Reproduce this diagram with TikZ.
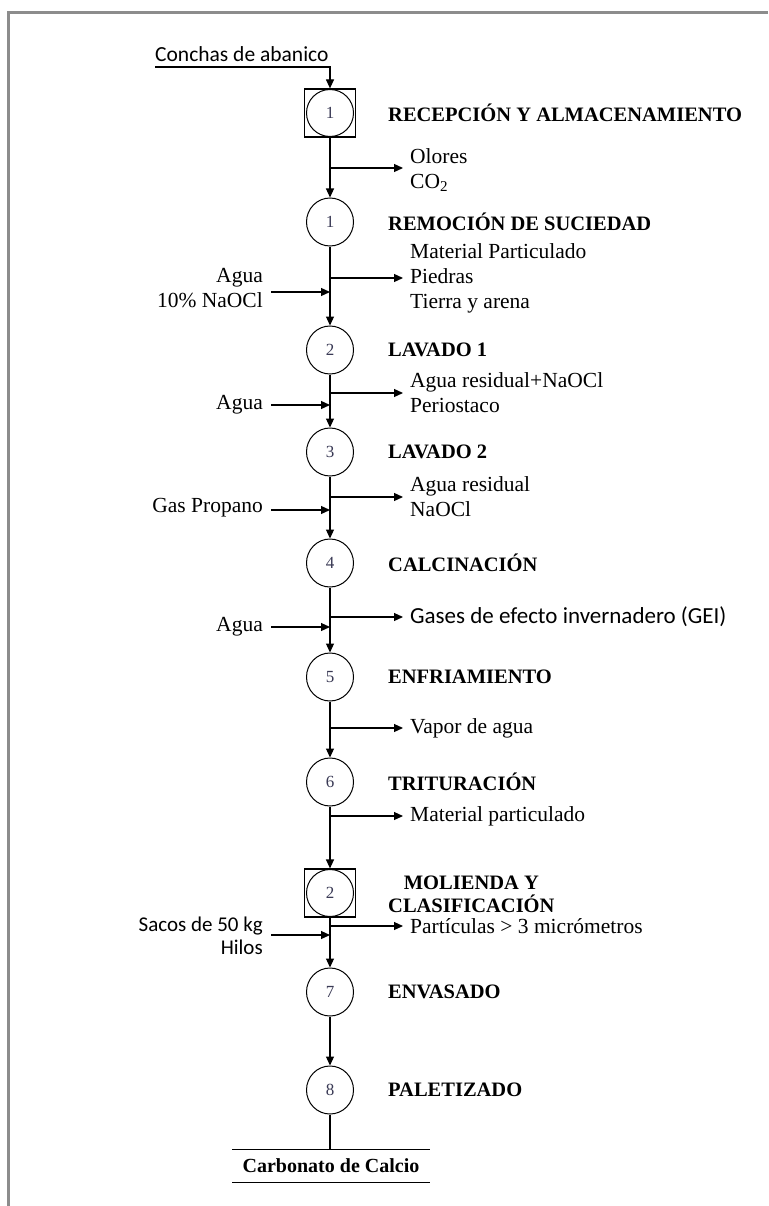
\documentclass[tikz,border=0pt]{standalone}
\usepackage{fontspec}
\setmainfont{Liberation Serif}
\newfontfamily\calib{Carlito}
\usetikzlibrary{shapes.geometric,arrows.meta}
\definecolor{framegray}{HTML}{8C8C8C}
\definecolor{numc}{HTML}{3A3A55}
\begin{document}
\begin{tikzpicture}[x=1pt,y=-1pt,
  proc/.style={draw, line width=1pt, ellipse, minimum width=47pt, minimum height=48pt, inner sep=0pt, font=\fontsize{17}{19}\selectfont, text=numc},
  inproc/.style={proc, minimum width=47pt, minimum height=47pt},
  boxproc/.style={draw, line width=1.2pt, rectangle, minimum width=51pt, minimum height=48pt, inner sep=0pt},
  title/.style={anchor=west, align=center, font=\bfseries\fontsize{20.5}{23}\selectfont, inner sep=0pt},
  outlab/.style={anchor=west, align=left, font=\fontsize{21.5}{25}\selectfont, inner sep=0pt},
  inlab/.style={anchor=east, align=right, font=\fontsize{21.5}{25}\selectfont, inner sep=0pt},
  flow/.style={line width=1.2pt, -{Triangle[length=9pt,width=8pt]}},
  plain/.style={line width=1.2pt}]
\useasboundingbox (0,0) rectangle (768,1206);
\fill[white] (0,0) rectangle (768,1206);
\draw[framegray, line width=3pt] (8,1206) -- (8,13) -- (768,13);

% process symbols
\node[boxproc] (b1) at (330,113) {};
\node[inproc] (s0) at (330,113) {1};
\node[proc] (s1) at (330,222) {1};
\node[proc] (s2) at (330,350) {2};
\node[proc] (s3) at (330,452) {3};
\node[proc] (s4) at (330,563) {4};
\node[proc] (s5) at (330,677) {5};
\node[proc] (s6) at (330,782) {6};
\node[boxproc] (b2) at (330,893) {};
\node[inproc] (m2) at (330,893) {2};
\node[proc] (s7) at (330,992) {7};
\node[proc] (s8) at (330,1090) {8};

% titles
\node[title] (h0) at (388,113) {RECEPCIÓN Y ALMACENAMIENTO};
\node[title] (h1) at (388,222) {REMOCIÓN DE SUCIEDAD};
\node[title] (h2) at (388,350) {LAVADO 1};
\node[title] (h3) at (388,452) {LAVADO 2};
\node[title] (h4) at (388,563) {CALCINACIÓN};
\node[title] (h5) at (388,677) {ENFRIAMIENTO};
\node[title] (h6) at (388,782) {TRITURACIÓN};
\node[title] (hm) at (388,894) {MOLIENDA Y\\CLASIFICACIÓN};
\node[title] (h7) at (388,992) {ENVASADO};
\node[title] (h8) at (388,1090) {PALETIZADO};

% raw material input
\node[anchor=south west, inner sep=0pt, font=\calib\fontsize{21.5}{24}\selectfont] (raw) at (155,62) {Conchas de abanico};
\coordinate (rawc) at (155,67);
\draw[flow] (rawc) -| (b1.north);

% main flow
\draw[flow] (b1.south) -- (s1.north);
\draw[flow] (s1.south) -- (s2.north);
\draw[flow] (s2.south) -- (s3.north);
\draw[flow] (s3.south) -- (s4.north);
\draw[flow] (s4.south) -- (s5.north);
\draw[flow] (s5.south) -- (s6.north);
\draw[flow] (s6.south) -- (b2.north);
\draw[flow] (b2.south) -- (s7.north);
\draw[flow] (s7.south) -- (s8.north);

% outputs
\node[outlab] (t0) at (410,170) {Olores\\CO\textsubscript{2}};
\coordinate (o0) at (330,168);
\draw[flow] (o0) -- ([xshift=-7pt]t0.west |- o0);

\node[outlab] (t1) at (410,278) {Material Particulado\\Piedras\\Tierra y arena};
\coordinate (o1) at (330,278);
\draw[flow] (o1) -- ([xshift=-7pt]t1.west |- o1);

\node[outlab] (t2) at (410,393) {Agua residual+NaOCl\\Periostaco};
\coordinate (o2) at (330,393);
\draw[flow] (o2) -- ([xshift=-7pt]t2.west |- o2);

\node[outlab] (t3) at (410,497) {Agua residual\\NaOCl};
\coordinate (o3) at (330,497);
\draw[flow] (o3) -- ([xshift=-7pt]t3.west |- o3);

\node[outlab, font=\calib\fontsize{23}{25}\selectfont] (t4) at (410,617) {Gases de efecto invernadero (GEI)};
\coordinate (o4) at (330,617);
\draw[flow] (o4) -- ([xshift=-7pt]t4.west |- o4);

\node[outlab] (t5) at (410,728) {Vapor de agua};
\coordinate (o5) at (330,728);
\draw[flow] (o5) -- ([xshift=-7pt]t5.west |- o5);

\node[outlab] (t6) at (410,816) {Material particulado};
\coordinate (o6) at (330,816);
\draw[flow] (o6) -- ([xshift=-7pt]t6.west |- o6);

\node[outlab] (tm) at (410,926) {Partículas > 3 micrómetros};
\coordinate (om) at (330,926);
\draw[flow] (om) -- ([xshift=-7pt]tm.west |- om);

% inputs
\node[inlab] (i1) at (263,288) {Agua\\10\% NaOCl};
\coordinate (a1) at (330,292);
\draw[flow] ([xshift=8pt]i1.east |- a1) -- (a1);

\node[inlab] (i2) at (263,405) {Agua};
\coordinate (a2) at (330,405);
\draw[flow] ([xshift=8pt]i2.east |- a2) -- (a2);

\node[inlab] (i3) at (263,508) {Gas Propano};
\coordinate (a3) at (330,510);
\draw[flow] ([xshift=8pt]i3.east |- a3) -- (a3);

\node[inlab] (i4) at (263,627) {Agua};
\coordinate (a4) at (330,627);
\draw[flow] ([xshift=8pt]i4.east |- a4) -- (a4);

\node[inlab, font=\calib\fontsize{21}{23}\selectfont] (im) at (263,936) {Sacos de 50 kg\\Hilos};
\coordinate (am) at (330,935);
\draw[flow] ([xshift=8pt]im.east |- am) -- (am);

% product
\node[inner sep=0pt, minimum width=197pt, minimum height=32pt, font=\bfseries\fontsize{20}{23}\selectfont] (prod) at (331,1166) {Carbonato de Calcio};
\draw[plain] (s8.south) -- (s8.south |- prod.north);
\draw[plain] (prod.north west) -- (prod.north east);
\draw[plain] (prod.south west) -- (prod.south east);
\end{tikzpicture}
\end{document}
